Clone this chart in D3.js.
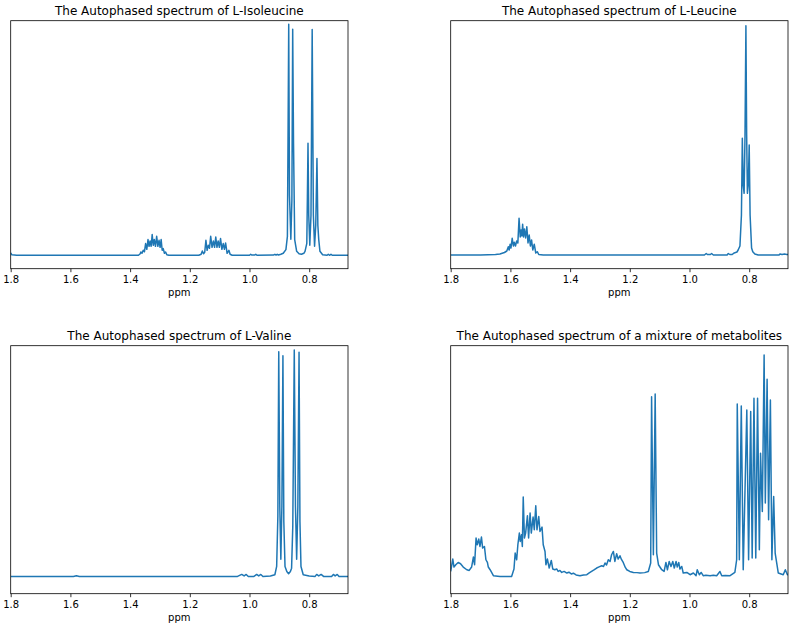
<!DOCTYPE html>
<html lang="en">
<head>
<meta charset="UTF-8">
<title>Autophased spectra</title>
<script src="https://cdn.jsdelivr.net/npm/d3@7"></script>
<style>
    body { margin: 0; padding: 0; background: #fff; overflow: hidden; }
    svg { display: block; }
    text { font-family: "DejaVu Sans", sans-serif; fill: #000; }
</style>
</head>
<body>
<svg id="chart" width="794" height="627"></svg>
<script>
// chemical shift (ppm) and intensity (a.u.)
const isoleucine = [
    [1.800, 2.5], [1.796, 0.5], [1.780, 0], [1.600, 0], [1.400, 0], [1.372, 0], [1.366, 1.5], [1.364, 3.3],
    [1.360, 2], [1.356, 5], [1.352, 3.5], [1.348, 11.7], [1.344, 6], [1.340, 15.7], [1.3365, 9], [1.333, 14.3],
    [1.3295, 9], [1.326, 20.7], [1.3225, 10], [1.319, 15.7], [1.315, 9], [1.311, 19], [1.307, 9], [1.303, 15],
    [1.2995, 8], [1.296, 15.7], [1.2925, 5], [1.289, 6.7], [1.285, 2], [1.281, 3.3], [1.277, 0.5], [1.270, 0],
    [1.170, 0], [1.162, 1], [1.158, 4.3], [1.154, 1.5], [1.150, 3], [1.146, 15], [1.142, 5], [1.138, 10],
    [1.134, 7], [1.130, 19], [1.1255, 8], [1.121, 14.3], [1.117, 8], [1.113, 18.3], [1.109, 8], [1.105, 14.3],
    [1.101, 8], [1.097, 16.7], [1.0925, 6], [1.088, 11.7], [1.084, 6], [1.080, 12.3], [1.075, 2], [1.069, 5],
    [1.065, 1], [1.058, 0], [1.000, 0], [0.996, 1], [0.992, 0.2], [0.983, 0.2], [0.979, 1], [0.975, 0],
    [0.920, 0.2], [0.915, 1], [0.911, 0.3], [0.907, 1], [0.903, 0.3], [0.895, 1], [0.887, 2], [0.878, 5.7],
    [0.873, 19], [0.871, 112], [0.8686, 231], [0.866, 60], [0.8615, 16], [0.858, 55], [0.8553, 226], [0.8525, 112],
    [0.8486, 15.7], [0.842, 4], [0.834, 1.5], [0.826, 1], [0.818, 2], [0.814, 4], [0.808, 12], [0.806, 59],
    [0.804, 112], [0.8015, 40], [0.798, 10], [0.794, 40], [0.790, 225.7], [0.786, 40], [0.782, 9], [0.778, 30],
    [0.774, 96.7], [0.771, 30], [0.768, 15.7], [0.764, 4], [0.755, 0.5], [0.740, 0], [0.736, 1], [0.731, 0],
    [0.727, 1], [0.723, 0], [0.700, 0], [0.670, 0]
];

const leucine = [
    [1.800, 0], [1.700, 0], [1.650, 0.5], [1.635, 1], [1.620, 2.5], [1.612, 4], [1.607, 8.3], [1.604, 5],
    [1.601, 10.7], [1.598, 7], [1.594, 16.7], [1.590, 9], [1.587, 12.7], [1.583, 9], [1.579, 14], [1.575, 12],
    [1.571, 36.7], [1.567, 18], [1.564, 25], [1.5615, 19], [1.559, 30.7], [1.556, 18], [1.553, 26], [1.549, 17],
    [1.545, 28.3], [1.541, 12], [1.537, 20], [1.533, 9], [1.529, 15], [1.525, 5], [1.520, 10.7], [1.515, 2],
    [1.510, 3.3], [1.505, 0.5], [1.490, 0], [1.200, 0], [0.950, 0], [0.944, 1.5], [0.940, 0.5], [0.930, 0.5],
    [0.926, 1.5], [0.920, 0], [0.874, 0], [0.870, 1.5], [0.865, 0.5], [0.857, 0.5], [0.853, 1.5], [0.848, 2.3],
    [0.841, 3], [0.837, 5], [0.831, 9], [0.826, 40], [0.823, 116.7], [0.820, 70], [0.817, 61.7], [0.814, 120],
    [0.811, 229.3], [0.8085, 120], [0.806, 61.7], [0.803, 70], [0.800, 110], [0.797, 40], [0.792, 7], [0.788, 3.3],
    [0.781, 1], [0.770, 0], [0.700, 0], [0.697, 1], [0.690, 0.5], [0.682, 1], [0.674, 0.5], [0.670, 0.5]
];

const valine = [
    [1.800, 0], [1.590, 0], [1.580, 0.7], [1.570, 0], [1.040, 0], [1.026, 2], [1.018, 0.5], [1.011, 2],
    [1.004, 0], [0.985, 0], [0.976, 2], [0.969, 0.5], [0.962, 2], [0.955, 0], [0.930, 0.5], [0.915, 1.7],
    [0.909, 10], [0.905, 60], [0.902, 225], [0.8985, 70], [0.895, 17.3], [0.8915, 70], [0.888, 221], [0.885, 55],
    [0.881, 10], [0.875, 5], [0.869, 2.7], [0.863, 5], [0.859, 8.3], [0.855, 50], [0.850, 226.7], [0.846, 70],
    [0.842, 17.3], [0.838, 70], [0.834, 224.4], [0.831, 55], [0.8275, 10], [0.820, 1.7], [0.800, 0.5], [0.780, 0],
    [0.775, 2], [0.768, 0.5], [0.760, 2], [0.752, 0], [0.725, 0], [0.719, 2], [0.713, 0.5], [0.706, 2],
    [0.700, 0], [0.670, 0]
];

const mixture = [
    [1.800, 5], [1.799, 6.7], [1.793, 17.4], [1.789, 9.4], [1.783, 11.7], [1.775, 14], [1.767, 12.7], [1.758, 9.4],
    [1.746, 6.7], [1.738, 6], [1.730, 9.4], [1.724, 19.4], [1.720, 11.7], [1.715, 38.4], [1.711, 31.7], [1.706, 37.4],
    [1.702, 30], [1.697, 39.4], [1.693, 28.4], [1.687, 30], [1.682, 16.7], [1.677, 14], [1.674, 9.4], [1.668, 6.7],
    [1.657, 0.7], [1.635, 0], [1.596, 0], [1.588, 7.4], [1.584, 23.4], [1.579, 16.7], [1.575, 31.7], [1.570, 43.4],
    [1.567, 35], [1.563, 41.7], [1.560, 30], [1.557, 79.4], [1.553, 38.4], [1.549, 43.4], [1.543, 60.7], [1.539, 38.4],
    [1.534, 63.4], [1.530, 43.4], [1.524, 59.4], [1.520, 46.7], [1.515, 70.7], [1.511, 46.7], [1.505, 60], [1.501, 45],
    [1.494, 49.4], [1.490, 31.7], [1.484, 25], [1.481, 11.7], [1.476, 17.4], [1.470, 8.4], [1.463, 16], [1.458, 7.4],
    [1.451, 6.7], [1.445, 7.5], [1.440, 5], [1.434, 6], [1.428, 4], [1.420, 5], [1.411, 3.4], [1.404, 4.2],
    [1.396, 2.5], [1.389, 3.2], [1.380, 1.5], [1.367, 0.7], [1.355, 1.5], [1.344, 1.7], [1.336, 3.5], [1.328, 5],
    [1.320, 6.5], [1.311, 8.4], [1.303, 9.5], [1.294, 10.7], [1.288, 10], [1.283, 13.4], [1.278, 11.5], [1.272, 16.7],
    [1.266, 15], [1.261, 21.7], [1.255, 25], [1.250, 15], [1.244, 22.7], [1.239, 17.4], [1.233, 20.7], [1.228, 17],
    [1.222, 14], [1.215, 9], [1.210, 6.7], [1.200, 5], [1.188, 4], [1.176, 3.8], [1.166, 3.4], [1.150, 3.8],
    [1.138, 5], [1.130, 13.4], [1.127, 180], [1.121, 21.7], [1.115, 182.7], [1.110, 23.4], [1.104, 11.7], [1.093, 6.7],
    [1.085, 5], [1.079, 14], [1.074, 6.7], [1.068, 15], [1.062, 10], [1.056, 15], [1.051, 8.4], [1.045, 15],
    [1.041, 9.4], [1.036, 14], [1.032, 7.4], [1.026, 10], [1.021, 3.4], [1.009, 4], [0.998, 1.7], [0.987, 3.4],
    [0.978, 0.7], [0.974, 6.7], [0.967, 1.7], [0.961, 4], [0.954, 0.7], [0.945, 1.2], [0.931, 0.7], [0.920, 1.2],
    [0.909, 0.7], [0.898, 5], [0.892, 0.7], [0.880, 1], [0.864, 0.7], [0.848, 4], [0.842, 16.7], [0.840, 172.7],
    [0.833, 16.7], [0.8265, 170.7], [0.820, 6.7], [0.808, 166.7], [0.802, 16.7], [0.795, 165], [0.790, 18.4], [0.784, 178.4],
    [0.778, 18.4], [0.772, 178.4], [0.766, 26.7], [0.762, 123.4], [0.756, 65], [0.750, 221.7], [0.746, 73.4], [0.740, 197.4],
    [0.735, 56.7], [0.729, 176.7], [0.724, 16.7], [0.718, 80], [0.713, 23.4], [0.7025, 3.4], [0.686, 1.7], [0.679, 6.7],
    [0.672, 1.7], [0.670, 2]
];

const titles = [
    "The Autophased spectrum of L-Isoleucine",
    "The Autophased spectrum of L-Leucine",
    "The Autophased spectrum of L-Valine",
    "The Autophased spectrum of a mixture of metabolites"
];
const xTicks = [1.8, 1.6, 1.4, 1.2, 1.0, 0.8];
const xLimits = [1.8, 0.67];
const xLabel = "ppm";

// panel layout
const panelW = 337.3, panelH = 248;
const panels = [
    { data: isoleucine, left: 10.7, top: 20.7, yDomain: [-13.4, 234.6] },
    { data: leucine, left: 450.7, top: 20.7, yDomain: [-13.7, 234.3] },
    { data: valine, left: 10.7, top: 345.7, yDomain: [-17.3, 231] },
    { data: mixture, left: 450.7, top: 345.7, yDomain: [-17.3, 231] }
];

const svg = d3.select("#chart");

panels.forEach((p, i) => {
    const g = svg.append("g").attr("transform", `translate(${p.left},${p.top})`);

    const x = d3.scaleLinear().domain(xLimits).range([0, panelW]);
    const y = d3.scaleLinear().domain(p.yDomain).range([panelH, 0]);

    g.append("clipPath").attr("id", "clip" + i)
        .append("rect").attr("width", panelW).attr("height", panelH);

    const line = d3.line()
        .x(d => x(d[0]))
        .y(d => y(d[1]));

    g.append("path")
        .datum(p.data)
        .attr("clip-path", `url(#clip${i})`)
        .attr("d", line)
        .attr("fill", "none")
        .attr("stroke", "#1f77b4")
        .attr("stroke-width", 1.5)
        .attr("stroke-linejoin", "round");

    const axis = g.append("g")
        .attr("transform", `translate(0,${panelH})`)
        .call(d3.axisBottom(x)
            .tickValues(xTicks)
            .tickFormat(d3.format(".1f"))
            .tickSize(3.5)
            .tickPadding(3.5));
    axis.select(".domain").remove();
    axis.selectAll("line").attr("stroke", "#000").attr("stroke-width", 0.8);
    axis.selectAll("text")
        .attr("font-size", 10)
        .attr("font-family", "DejaVu Sans, sans-serif")
        .attr("fill", "#000");

    g.append("rect")
        .attr("width", panelW)
        .attr("height", panelH)
        .attr("fill", "none")
        .attr("stroke", "#000")
        .attr("stroke-width", 0.8);

    g.append("text")
        .attr("x", panelW / 2)
        .attr("y", -6)
        .attr("text-anchor", "middle")
        .attr("font-size", 12)
        .text(titles[i]);

    g.append("text")
        .attr("x", panelW / 2)
        .attr("y", panelH + 27)
        .attr("text-anchor", "middle")
        .attr("font-size", 10)
        .text(xLabel);
});
</script>
</body>
</html>
